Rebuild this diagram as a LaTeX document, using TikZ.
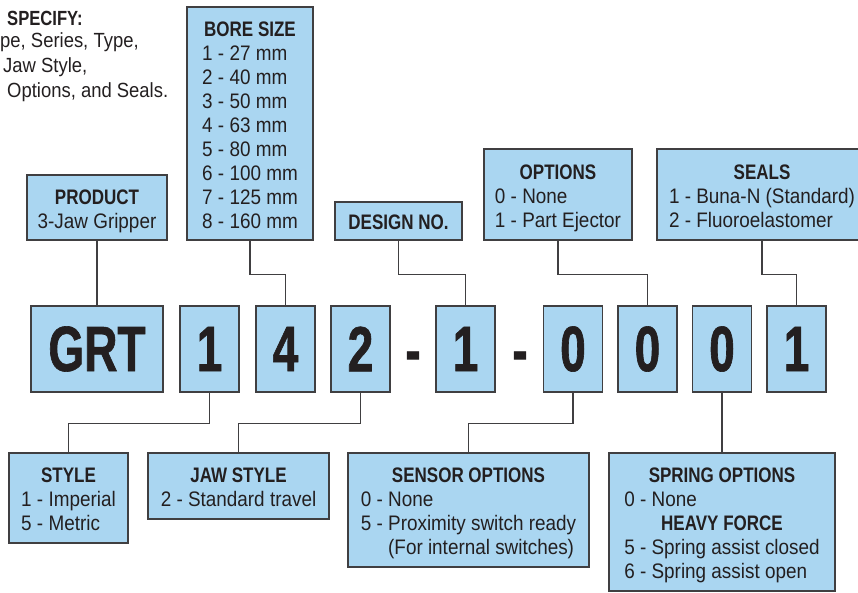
\documentclass[tikz,border=0pt]{standalone}
\usepackage{fontspec}
\setmainfont{Liberation Sans}[FakeStretch=0.9]
\newfontfamily\headfont{Liberation Sans}[FakeStretch=0.81]
\newfontfamily\digitfont{Liberation Sans Bold}[FakeStretch=0.72, FakeBold=1]
\usetikzlibrary{calc}

\definecolor{boxfill}{RGB}{170,214,241}
\definecolor{boxline}{RGB}{64,63,65}
\definecolor{ink}{RGB}{35,31,32}

\newcommand{\hd}[1]{{\headfont\bfseries #1}}
\newcommand{\hdrow}[1]{\multicolumn{1}{@{}c@{}}{\hd{#1}}}
\newcommand{\optlist}[1]{\raisebox{-4pt}[\height][\depth]{\begin{tabular}{@{}l@{}}#1\end{tabular}}}

\tikzset{
    optbox/.style={draw=boxline, fill=boxfill, line width=1.4pt, inner sep=0pt, text=ink,
        font=\fontsize{21}{24}\selectfont},
    digit/.style={optbox, minimum width=59pt, minimum height=86pt,
        font=\digitfont\fontsize{64}{64}\selectfont},
    link/.style={draw=boxline, line width=1.3pt}
}

\begin{document}
\begin{tikzpicture}[x=1pt,y=-1pt]
    \clip (0,0) rectangle (858,592);
    % note in the corner
    \node[anchor=north west, inner sep=0pt, text=ink, font=\fontsize{20.5}{25}\selectfont] (note) at (0,7.5)
        {\begin{tabular}{@{}l@{}}\hspace*{7pt}\hd{SPECIFY:}\\[-3pt] pe, Series, Type,\\ \hspace*{3pt}Jaw Style,\\ \hspace*{7pt}Options, and Seals.\end{tabular}};

    % option boxes above the code
    \node[optbox, minimum width=140pt, minimum height=65pt] (product) at (97,207.5)
        {\optlist{\hdrow{PRODUCT}\\ 3-Jaw Gripper}};
    \node[optbox, minimum width=126pt, minimum height=233pt] (bore) at (250,123.5)
        {\optlist{\hdrow{BORE SIZE}\\ 1 - 27 mm\\ 2 - 40 mm\\ 3 - 50 mm\\ 4 - 63 mm\\ 5 - 80 mm\\ 6 - 100 mm\\ 7 - 125 mm\\ 8 - 160 mm}};
    \node[optbox, minimum width=127pt, minimum height=38pt] (design) at (398.5,221)
        {\optlist{\hdrow{DESIGN NO.}}};
    \node[optbox, minimum width=148pt, minimum height=91pt] (options) at (558,194.5)
        {\optlist{\hdrow{OPTIONS}\\ 0 - None\\ 1 - Part Ejector}};
    \node[optbox, minimum width=210pt, minimum height=91pt] (seals) at (762,194.5)
        {\optlist{\hdrow{SEALS}\\ 1 - Buna-N (Standard)\\ 2 - Fluoroelastomer}};

    % the model code
    \node[digit, minimum width=132pt] (grt) at (97,349) {GRT};
    \node[digit] (cstyle) at (209.5,349) {1};
    \node[digit] (cbore) at (285.5,349) {4};
    \node[digit] (cjaw) at (360.5,349) {2};
    \node[digit, draw=none, fill=none, minimum width=0pt, minimum height=0pt, anchor=base] (dasha) at (413,372) {-};
    \node[digit] (cdesign) at (465.5,349) {1};
    \node[digit, draw=none, fill=none, minimum width=0pt, minimum height=0pt, anchor=base] (dashb) at (520,372) {-};
    \node[digit] (csensor) at (573,349) {0};
    \node[digit] (coption) at (647.5,349) {0};
    \node[digit] (cspring) at (722,349) {0};
    \node[digit] (cseal) at (796.5,349) {1};

    % option boxes below the code
    \node[optbox, minimum width=119pt, minimum height=90pt] (style) at (68.5,498)
        {\optlist{\hdrow{STYLE}\\ 1 - Imperial\\ 5 - Metric}};
    \node[optbox, minimum width=181pt, minimum height=66pt] (jaw) at (238.5,486)
        {\optlist{\hdrow{JAW STYLE}\\ 2 - Standard travel}};
    \node[optbox, minimum width=241pt, minimum height=114pt] (sensor) at (468.5,510)
        {\optlist{\hdrow{SENSOR OPTIONS}\\ 0 - None\\ 5 - Proximity switch ready\\ \phantom{5 - }(For internal switches)}};
    \node[optbox, minimum width=226pt, minimum height=138pt] (spring) at (722,522)
        {\optlist{\hdrow{SPRING OPTIONS}\\ 0 - None\\ \hdrow{HEAVY FORCE}\\ 5 - Spring assist closed\\ 6 - Spring assist open}};

    % leaders
    \draw[link] (product) -- (grt);
    \draw[link] (bore.south) -- ++(0,34) -| (cbore.north);
    \draw[link] (design.south) -- ++(0,34) -| (cdesign.north);
    \draw[link] (options.south) -- ++(0,34) -| (coption.north);
    \draw[link] (seals.south) -- ++(0,34) -| (cseal.north);
    \draw[link] (cstyle.south) -- ++(0,31) -| (style.north);
    \draw[link] (cjaw.south) -- ++(0,31) -| (jaw.north);
    \draw[link] (csensor.south) -- ++(0,31) -| (sensor.north);
    \draw[link] (cspring) -- (spring);
\end{tikzpicture}
\end{document}
